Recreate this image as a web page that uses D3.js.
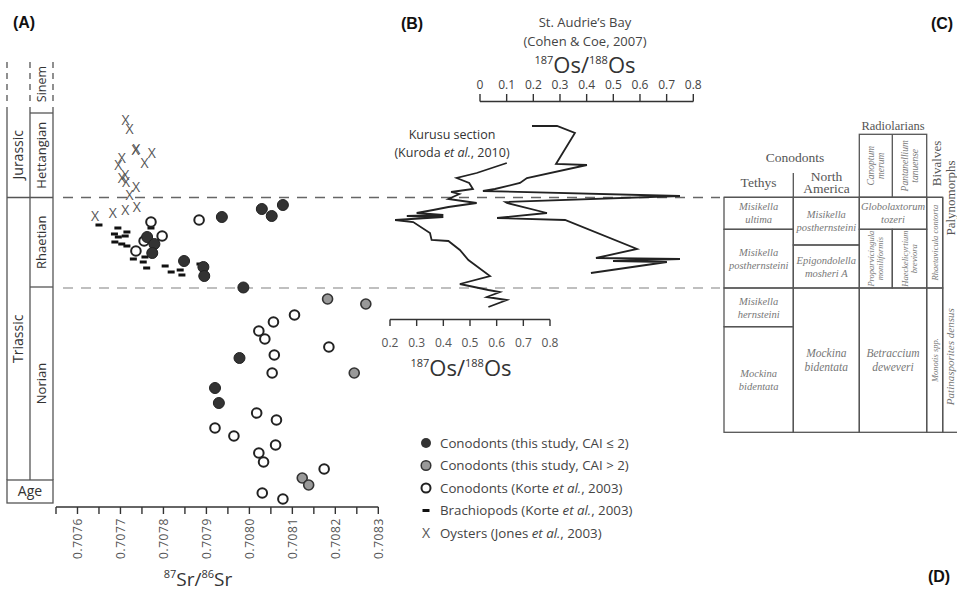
<!DOCTYPE html>
<html><head><meta charset="utf-8">
<script src="https://cdn.jsdelivr.net/npm/d3@7"></script>
<style>body{margin:0;background:#fff}svg{display:block}</style>
</head><body>
<svg id="c" width="957" height="592"></svg>
<script>
// ---------------- DATA ----------------
const srTickValues = [0.7076,0.7077,0.7078,0.7079,0.7080,0.7081,0.7082,0.7083];
const srMinorTicks = [0.70755,0.70765,0.70775,0.70785,0.70795,0.70805,0.70815,0.70825];
const osTopTicks = [0,0.1,0.2,0.3,0.4,0.5,0.6,0.7,0.8];
const osBottomTicks = [0.2,0.3,0.4,0.5,0.6,0.7,0.8];

// [87Sr/86Sr, stratigraphic level]
const conodontsLowCAI = [[0.707936,290],[0.708029,298],[0.708052,291],[0.708078,302],[0.707762,270],[0.707779,263],[0.707774,254],[0.707848,246],[0.707893,240],[0.707895,231],[0.707986,219.5],[0.707977,149],[0.70792,119],[0.707929,104]];
const conodontsHighCAI = [[0.708182,208],[0.708271,203],[0.708244,134],[0.708123,29],[0.708138,22]];
const conodontsKorte = [[0.707771,285],[0.707797,271],[0.707736,256],[0.707883,287],[0.707755,266],[0.708105,192],[0.708056,185],[0.708022,176],[0.708036,168],[0.708185,160],[0.708058,152],[0.708053,134],[0.708017,94],[0.708063,87],[0.70792,79],[0.707964,71],[0.708061,62],[0.708022,54],[0.708033,45],[0.708174,38],[0.70803,14],[0.708078,8]];
const brachiopods = [[0.70765,282],[0.707694,279],[0.707715,275],[0.707686,273],[0.707711,271],[0.707695,270],[0.707687,265],[0.707703,263],[0.707715,261],[0.707771,279],[0.70773,248],[0.707753,245],[0.707761,239],[0.707804,241],[0.707818,235],[0.707839,237],[0.707843,232],[0.707885,243],[0.707757,250]];
const oysters = [[0.707712,387],[0.707721,378],[0.707737,358],[0.707735,357],[0.707773,354],[0.707703,349],[0.707756,344],[0.707695,342],[0.707711,332],[0.707703,329],[0.707713,325],[0.707736,320],[0.707721,312],[0.707738,300],[0.707711,297],[0.707682,294],[0.707641,291]];

// [187Os/188Os, level]
const osStAudrie = [[0.195,381],[0.289,381],[0.356,374],[0.285,343],[0.401,342],[0.176,329],[0.15,324],[0.056,318],[0.011,316],[0.75,311],[0.095,305],[0.101,304],[0.251,294],[0.064,289],[0.319,287],[0.589,258],[0.435,249],[0.75,248],[0.499,246],[0.701,245],[0.416,234]];
const osKurusu = [[0.638,344],[0.525,334],[0.45,329],[0.497,324],[0.511,318],[0.429,315],[0.46,313],[0.419,308],[0.525,304],[0.419,300],[0.362,297],[0.3,294],[0.4,292],[0.263,291],[0.4,290],[0.219,287],[0.287,285],[0.35,274],[0.356,267],[0.419,266],[0.462,257],[0.494,247],[0.575,231],[0.462,223],[0.569,217],[0.612,215],[0.563,210],[0.638,207],[0.569,200]];

// chronostratigraphy (levels)
const periodNames = ["Jurassic","Triassic"];
const periodTop = [399,309.5];
const periodBottom = [309.5,27];
const stageNames = ["Hettangian","Rhaetian","Norian"];
const stageTop = [394,309.5,220];
const stageBottom = [309.5,220,27];
const boundaryLevels = [309.5,219];

const legendLabels = ["Conodonts (this study, CAI \u2264 2)","Conodonts (this study, CAI > 2)","Conodonts (Korte ",  "Brachiopods (Korte ","Oysters (Jones "];

// biostratigraphic table texts
const tableCells = [
  {col:[0,1],row:[0,1],t:["Misikella","ultima"]},
  {col:[0,1],row:[1,3],t:["Misikella","posthernsteini"]},
  {col:[0,1],row:[3,4],t:["Misikella","hernsteini"]},
  {col:[0,1],row:[4,5],t:["Mockina","bidentata"]},
  {col:[1,2],row:[0,2],t:["Misikella","posthernsteini"]},
  {col:[1,2],row:[2,3],t:["Epigondolella","mosheri A"]},
  {col:[1,2],row:[3,5],t:["Mockina","bidentata"]},
  {col:[2,4],row:[0,1],t:["Globolaxtorum","tozeri"]},
  {col:[2,3],row:[1,3],t:["Proparvicingula","moniliformis"],rot:true},
  {col:[3,4],row:[1,3],t:["Haeckelicyrtium","breviora"],rot:true},
  {col:[2,4],row:[3,5],t:["Betraccium","deweveri"]},
  {col:[4,5],row:[0,3],t:["Rhaetavicula contorta"],rot:true},
  {col:[4,5],row:[3,5],t:["Monotis spp."],rot:true}
];

// ---------------- DRAW ----------------
const svg = d3.select("#c");
const sans = "'Open Sans', 'Noto Sans', sans-serif";
const serif = "'Liberation Serif', 'DejaVu Serif', serif";

const y = d3.scaleLinear().domain([0,450]).range([507,57]);
const xSr = d3.scaleLinear().domain([0.70755,0.7083]).range([56,378.3]);
const xOsTop = d3.scaleLinear().domain([0,0.8]).range([480,693.3]);
const xOsBot = d3.scaleLinear().domain([0.2,0.8]).range([390,550]);

// panel labels
[["(A)",24,28],["(B)",412,29],["(C)",942,29],["(D)",939,582]].forEach(([t,x,yy])=>{
  svg.append("text").attr("x",x).attr("y",yy).attr("text-anchor","middle")
    .attr("font-family","'Liberation Sans', Arial, sans-serif").attr("font-weight","bold")
    .attr("font-size",16).attr("fill","#111").text(t);
});

// dashed boundary lines
boundaryLevels.forEach((lv,i)=>{
  svg.append("line").attr("x1",63).attr("x2",720).attr("y1",y(lv)).attr("y2",y(lv))
    .attr("stroke", i===0?"#666":"#aaa").attr("stroke-width",1.6).attr("stroke-dasharray","10,8");
});

// ---- stratigraphic column ----
const colL = 7, colM = 30, colR = 53;
const g0 = svg.append("g").attr("stroke","#555").attr("stroke-width",1.3).attr("fill","none");
[colL,colM,colR].forEach(x=>{
  g0.append("line").attr("x1",x).attr("x2",x).attr("y1",y(445)).attr("y2",y(403)).attr("stroke-dasharray","6,5");
  g0.append("line").attr("x1",x).attr("x2",x).attr("y1",y(400)).attr("y2",y(27));
});
g0.append("line").attr("x1",colM).attr("x2",colR).attr("y1",y(stageTop[0])).attr("y2",y(stageTop[0]));
g0.append("line").attr("x1",colL).attr("x2",colR).attr("y1",y(periodBottom[0])).attr("y2",y(periodBottom[0]));
g0.append("line").attr("x1",colM).attr("x2",colR).attr("y1",y(stageBottom[1])).attr("y2",y(stageBottom[1]));
g0.append("rect").attr("x",colL).attr("y",y(27)).attr("width",colR-colL).attr("height",y(4)-y(27));
function vtext(x,yy,t,size,fam,fill,style){
  return svg.append("text").attr("transform",`translate(${x},${yy}) rotate(-90)`)
    .attr("text-anchor","middle").attr("dy","0.35em").attr("font-family",fam||sans)
    .attr("font-size",size).attr("fill",fill||"#333").attr("font-style",style||"normal").text(t);
}
periodNames.forEach((n,i)=>vtext((colL+colM)/2, y((periodTop[i]+periodBottom[i])/2)+(i===1?0:2), n, 14));
stageNames.forEach((n,i)=>vtext((colM+colR)/2, y((stageTop[i]+stageBottom[i])/2), n, 13));
vtext((colM+colR)/2, y(423), "Sinem", 12.5);
svg.append("text").attr("x",(colL+colR)/2).attr("y",y(15.5)).attr("dy","0.35em").attr("text-anchor","middle")
  .attr("font-family",sans).attr("font-size",14).attr("fill","#333").text("Age");

// ---- Sr axis ----
const ax = svg.append("g").attr("stroke","#333").attr("stroke-width",1.4);
ax.append("line").attr("x1",xSr(0.70755)).attr("x2",xSr(0.7083)).attr("y1",507).attr("y2",507);
srTickValues.concat(srMinorTicks).forEach(v=>{
  ax.append("line").attr("x1",xSr(v)).attr("x2",xSr(v)).attr("y1",507).attr("y2",514);
});
srTickValues.forEach(v=>{
  svg.append("text").attr("transform",`translate(${xSr(v)},518) rotate(-90)`)
    .attr("text-anchor","end").attr("dy","0.35em").attr("font-family",sans).attr("font-size",12)
    .attr("fill","#555").attr("letter-spacing","0.6").text(d3.format(".4f")(v));
});
const srLab = svg.append("text").attr("x",198).attr("y",586).attr("text-anchor","middle")
  .attr("font-family",sans).attr("fill","#333");
srLab.append("tspan").attr("font-size",11).attr("dy",-8).text("87");
srLab.append("tspan").attr("font-size",19).attr("dy",8).text("Sr/");
srLab.append("tspan").attr("font-size",11).attr("dy",-8).text("86");
srLab.append("tspan").attr("font-size",19).attr("dy",8).text("Sr");

// ---- Sr points ----
const gp = svg.append("g");
gp.selectAll("rect.br").data(brachiopods).enter().append("rect")
  .attr("x",d=>xSr(d[0])-3.5).attr("y",d=>y(d[1])-1.5).attr("width",7).attr("height",3).attr("fill","#111");
gp.selectAll("text.oy").data(oysters).enter().append("text")
  .attr("x",d=>xSr(d[0])).attr("y",d=>y(d[1])).attr("dy","0.35em").attr("text-anchor","middle")
  .attr("font-family",sans).attr("font-size",14).attr("fill","#555").text("X");
gp.selectAll("circle.ok").data(conodontsKorte).enter().append("circle")
  .attr("cx",d=>xSr(d[0])).attr("cy",d=>y(d[1])).attr("r",4.8).attr("fill","#fff").attr("stroke","#222").attr("stroke-width",2);
gp.selectAll("circle.hi").data(conodontsHighCAI).enter().append("circle")
  .attr("cx",d=>xSr(d[0])).attr("cy",d=>y(d[1])).attr("r",5).attr("fill","#999").attr("stroke","#333").attr("stroke-width",1.6);
gp.selectAll("circle.lo").data(conodontsLowCAI).enter().append("circle")
  .attr("cx",d=>xSr(d[0])).attr("cy",d=>y(d[1])).attr("r",5.5).attr("fill","#333").attr("stroke","#222").attr("stroke-width",1);

// ---- legend ----
const legY0 = 443, legDy = 22.5, legSymX = 426, legTxtX = 440;
const lg = svg.append("g").attr("font-family",sans).attr("font-size",13.3).attr("fill","#444");
legendLabels.forEach((t,i)=>{
  const yy = legY0 + i*legDy;
  if(i===0) lg.append("circle").attr("cx",legSymX).attr("cy",yy).attr("r",5).attr("fill","#333");
  if(i===1) lg.append("circle").attr("cx",legSymX).attr("cy",yy).attr("r",4.8).attr("fill","#999").attr("stroke","#333").attr("stroke-width",1.5);
  if(i===2) lg.append("circle").attr("cx",legSymX).attr("cy",yy).attr("r",4.5).attr("fill","#fff").attr("stroke","#222").attr("stroke-width",2);
  if(i===3) lg.append("rect").attr("x",legSymX-3.5).attr("y",yy-1.5).attr("width",7).attr("height",3).attr("fill","#111");
  if(i===4) lg.append("text").attr("x",legSymX).attr("y",yy).attr("dy","0.35em").attr("text-anchor","middle").attr("font-size",14).attr("fill","#555").text("X");
  const tx = lg.append("text").attr("x",legTxtX).attr("y",yy).attr("dy","0.35em");
  tx.append("tspan").text(t);
  if(i>=2){
    tx.append("tspan").attr("font-style","italic").text("et al.");
    tx.append("tspan").text(", 2003)");
  }
});

// ---- Panel B ----
const tb = svg.append("g").attr("font-family",sans).attr("fill","#444").attr("text-anchor","middle");
tb.append("text").attr("x",585).attr("y",27).attr("font-size",13).text("St. Audrie\u2019s Bay");
tb.append("text").attr("x",585).attr("y",46).attr("font-size",13).text("(Cohen & Coe, 2007)");
function osLabel(x,yy){
  const t = svg.append("text").attr("x",x).attr("y",yy).attr("text-anchor","middle").attr("font-family",sans).attr("fill","#333");
  t.append("tspan").attr("font-size",11).attr("dy",-9).text("187");
  t.append("tspan").attr("font-size",22).attr("dy",9).text("Os/");
  t.append("tspan").attr("font-size",11).attr("dy",-9).text("188");
  t.append("tspan").attr("font-size",22).attr("dy",9).text("Os");
}
osLabel(585,73);
osLabel(461,376);
const ab = svg.append("g").attr("stroke","#333").attr("stroke-width",1.4);
ab.append("line").attr("x1",xOsTop(0)).attr("x2",xOsTop(0.8)).attr("y1",101.5).attr("y2",101.5);
osTopTicks.forEach(v=>{
  ab.append("line").attr("x1",xOsTop(v)).attr("x2",xOsTop(v)).attr("y1",101.5).attr("y2",94);
  svg.append("text").attr("x",xOsTop(v)).attr("y",85).attr("dy","0.35em").attr("text-anchor","middle")
    .attr("font-family",sans).attr("font-size",12).attr("fill","#444").text(v===0?"0":d3.format(".1f")(v));
});
ab.append("line").attr("x1",xOsBot(0.2)).attr("x2",xOsBot(0.8)).attr("y1",319.5).attr("y2",319.5);
osBottomTicks.forEach(v=>{
  ab.append("line").attr("x1",xOsBot(v)).attr("x2",xOsBot(v)).attr("y1",319.5).attr("y2",326);
  svg.append("text").attr("x",xOsBot(v)).attr("y",342.5).attr("dy","0.35em").attr("text-anchor","middle")
    .attr("font-family",sans).attr("font-size",12).attr("fill","#555").text(d3.format(".1f")(v));
});
const kt = svg.append("g").attr("font-family",sans).attr("font-size",12.5).attr("fill","#333").attr("text-anchor","middle");
kt.append("text").attr("x",452).attr("y",139).text("Kurusu section");
const k2 = kt.append("text").attr("x",452).attr("y",157);
k2.append("tspan").text("(Kuroda ");
k2.append("tspan").attr("font-style","italic").text("et al.");
k2.append("tspan").text(", 2010)");

const lineTop = d3.line().x(d=>xOsTop(d[0])).y(d=>y(d[1]));
const lineBot = d3.line().x(d=>xOsBot(d[0])).y(d=>y(d[1]));
svg.append("path").attr("d",lineTop(osStAudrie)).attr("fill","none").attr("stroke","#222").attr("stroke-width",1.8).attr("stroke-linejoin","miter");
svg.append("path").attr("d",lineBot(osKurusu)).attr("fill","none").attr("stroke","#222").attr("stroke-width",1.8);

// ---- Panel C table ----
const colX = [724,793.3,859.3,892.3,926.7,942.7,957];
const rowY = [197.3,229.3,245,288,326.7,432.3];
const tg = svg.append("g");
const ls = {stroke:"#555", w:1.3};
function ln(x1,y1,x2,y2){ tg.append("line").attr("x1",x1).attr("y1",y1).attr("x2",x2).attr("y2",y2).attr("stroke",ls.stroke).attr("stroke-width",ls.w); }
tableCells.forEach(c=>{
  const x0=colX[c.col[0]], x1=colX[c.col[1]], y0=rowY[c.row[0]], y1=rowY[c.row[1]];
  tg.append("rect").attr("x",x0).attr("y",y0).attr("width",x1-x0).attr("height",y1-y0)
    .attr("fill","none").attr("stroke",ls.stroke).attr("stroke-width",ls.w);
});
tg.append("rect").attr("x",colX[2]).attr("y",134.3).attr("width",colX[4]-colX[2]).attr("height",rowY[0]-134.3)
  .attr("fill","none").attr("stroke",ls.stroke).attr("stroke-width",ls.w);
ln(colX[3],134.3,colX[3],rowY[0]);
ln(colX[1],173,colX[1],rowY[0]);
ln(colX[5],rowY[0],colX[5],rowY[5]);
ln(colX[5],rowY[5],957,rowY[5]);
ln(colX[0],rowY[0],colX[5],rowY[0]);

tableCells.forEach(c=>{
  const x0=colX[c.col[0]], x1=colX[c.col[1]], y0=rowY[c.row[0]], y1=rowY[c.row[1]];
  const cx=(x0+x1)/2, cy=(y0+y1)/2;
  const n=c.t.length;
  const big = (c.row[1]-c.row[0]>=2 && c.row[0]>=3);
  c.t.forEach((s,i)=>{
    const off = (i-(n-1)/2)*(c.rot?9:(big?14:13));
    const t = svg.append("text").attr("text-anchor","middle").attr("dy","0.35em")
      .attr("font-family",serif).attr("font-style","italic").attr("fill","#777")
      .attr("font-size",c.rot?8.5:(big?11.5:10.5)).text(s);
    if(c.rot) t.attr("transform",`translate(${cx+off},${cy}) rotate(-90)`);
    else t.attr("x",cx).attr("y",cy+off);
  });
});
[["Canoptum","merum",2],["Pantanellium","tanuense",3]].forEach(([a,b,ci])=>{
  const cx=(colX[ci]+colX[ci+1])/2, cy=(134.3+rowY[0])/2;
  [a,b].forEach((s,i)=>{
    svg.append("text").attr("transform",`translate(${cx+(i-0.5)*10},${cy}) rotate(-90)`)
      .attr("text-anchor","middle").attr("dy","0.35em").attr("font-family",serif).attr("font-style","italic")
      .attr("fill","#777").attr("font-size",9.5).text(s);
  });
});
vtext(950, 356.7, "Patinasporites densus", 11, serif, "#777", "italic");
const hg = svg.append("g").attr("font-family",serif).attr("fill","#555").attr("text-anchor","middle");
hg.append("text").attr("x",795).attr("y",162).attr("font-size",13.5).text("Conodonts");
hg.append("text").attr("x",758.5).attr("y",187).attr("font-size",13.5).text("Tethys");
hg.append("text").attr("x",826.5).attr("y",181).attr("font-size",13.5).text("North");
hg.append("text").attr("x",826.5).attr("y",193).attr("font-size",13.5).text("America");
hg.append("text").attr("x",893).attr("y",130).attr("font-size",12.5).text("Radiolarians");
vtext(936.7,163.5,"Bivalves",13,serif,"#555");
vtext(950,198,"Palynomorphs",13,serif,"#555");
</script>
</body></html>
